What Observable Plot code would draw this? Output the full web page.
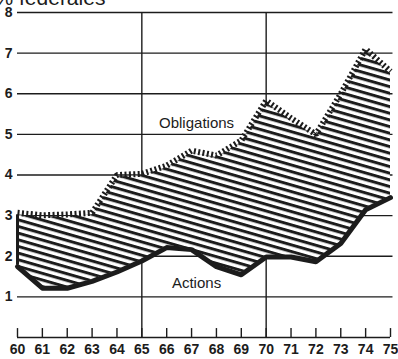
<!DOCTYPE html>
<html><head><meta charset="utf-8">
<script src="https://cdn.jsdelivr.net/npm/d3@7"></script>
<script src="https://cdn.jsdelivr.net/npm/@observablehq/plot@0.6"></script>
<style>body{margin:0;background:#fff}</style>
</head><body><div id="chart"></div>
<script>
const years = [60,61,62,63,64,65,66,67,68,69,70,71,72,73,74,75];
const obligations = [3.02,2.96,2.98,3.02,3.95,3.98,4.18,4.55,4.43,4.8,5.78,5.35,4.95,5.95,7.05,6.5];
const actions = [1.78,1.25,1.25,1.42,1.65,1.92,2.25,2.2,1.78,1.58,2.02,2.02,1.9,2.35,3.18,3.48];
const yTicks = [1,2,3,4,5,6,7,8];
const vGrid = [65,70];
const title = "% fédérales";
const seriesNames = ["Obligations","Actions"];
const labelX = [67.2,67.2];
const labelY = [5.27,1.33];

const data = years.map((y,i)=>({year:y, obligations:obligations[i], actions:actions[i]}));
const labels = seriesNames.map((n,i)=>({name:n, x:labelX[i], y:labelY[i]}));
const ink = "#1c1c1c";
const font = "'Liberation Sans', Arial, Helvetica, sans-serif";

const chart = Plot.plot({
  width: 398, height: 359,
  marginLeft: 17, marginRight: 8, marginTop: 12, marginBottom: 22,
  x: {domain:[60,75], axis:null},
  y: {domain:[0,8], axis:null},
  style: {fontFamily: font, color: ink, background:"#fff"},
  marks: [
    Plot.ruleY(yTicks, {x1:60, x2:75.1, stroke:ink, strokeWidth:1.4}),
    Plot.ruleX(vGrid, {y1:0, y2:8, stroke:ink, strokeWidth:1.4}),
    Plot.ruleY([0], {x1:60, x2:75, stroke:ink, strokeWidth:1.4}),
    Plot.ruleX(years, {y1:0, y2:0.22, stroke:ink, strokeWidth:1.4}),
    Plot.areaY(data, {x:"year", y1:"actions", y2:"obligations", fill:"url(#hatch)"}),
    Plot.ruleX([data[0]], {x:"year", y1:"actions", y2:"obligations", stroke:ink, strokeWidth:3}),
    Plot.line(data, {x:"year", y:"obligations", stroke:ink, strokeWidth:6, strokeDasharray:"2 2.4", strokeLinecap:"butt", strokeLinejoin:"miter", dy:-2}),
    Plot.line(data, {x:"year", y:"actions", stroke:ink, strokeWidth:5, dy:1.5}),
    Plot.text(yTicks, {x:60, y:d=>d, text:d=>String(d), dx:-5, textAnchor:"end", fontSize:14, fontWeight:"bold", fill:ink}),
    Plot.text(years, {x:d=>d, y:0, text:d=>String(d), dy:12, fontSize:14, fontWeight:"bold", fill:ink}),
    Plot.text(labels, {x:"x", y:"y", text:"name", fontSize:15, fill:ink}),
    Plot.text([title], {frameAnchor:"top-left", dx:-23, dy:-8, textAnchor:"start", lineAnchor:"bottom", fontSize:21, fill:ink})
  ]
});
document.getElementById("chart").appendChild(chart);
const svg = d3.select(chart);
const defs = svg.insert("defs", ":first-child");
const p = defs.append("pattern").attr("id","hatch").attr("patternUnits","userSpaceOnUse")
  .attr("width",6.4).attr("height",6.4).attr("patternTransform","rotate(16)");
p.append("rect").attr("width",6.4).attr("height",6.4).attr("fill","#fff");
p.append("rect").attr("width",6.4).attr("height",3).attr("fill",ink);
</script></body></html>
